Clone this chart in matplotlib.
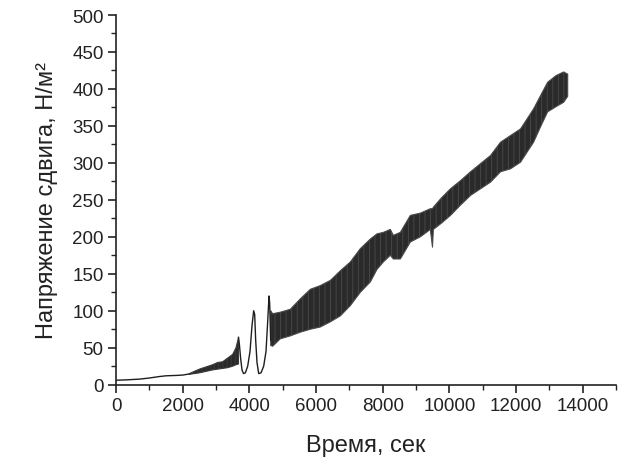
import matplotlib
matplotlib.use("Agg")
import matplotlib.pyplot as plt
from matplotlib.ticker import MultipleLocator

plt.rcParams['font.family'] = ['Liberation Sans', 'DejaVu Sans']
plt.rcParams['hatch.linewidth'] = 0.6

# Thin (low-noise) segment at the start
t_start = [0, 300, 700, 1000, 1300, 1500, 1800, 2000, 2200]
v_start = [6, 6.5, 7.5, 9, 11, 12, 12.5, 13, 14.5]

# Noisy band 2200-3700 s (lower / upper envelope)
t_band1 = [2200, 2500, 2700, 2900, 3050, 3200, 3350, 3500, 3600, 3675]
lo_band1 = [14, 16, 18, 20, 21, 22, 23, 25, 27, 28]
hi_band1 = [15, 21, 24, 27, 30, 31, 36, 41, 50, 64]

# Thin line with two sharp peaks
t_peaks = [3675, 3700, 3740, 3780, 3825, 3880, 3950, 4020, 4080, 4130, 4160,
           4190, 4230, 4280, 4350, 4430, 4500, 4550, 4590, 4610, 4640]
v_peaks = [64, 55, 35, 20, 15, 16, 25, 45, 80, 100, 95,
           60, 30, 15, 16, 25, 45, 85, 120, 110, 60]

# Main noisy band 4640-13550 s (lower / upper envelope)
t_band2 = [4640, 4700, 4927, 5230, 5528, 5830, 6128, 6430, 6729, 7030, 7330,
           7630, 7830, 8020, 8230, 8320, 8530, 8830, 9130, 9430, 9494, 9520,
           9750, 10035, 10336, 10636, 10936, 11236, 11536, 11837, 12137,
           12527, 12748, 12948, 13200, 13429, 13550]
lo_band2 = [53, 52, 62, 66, 71, 75, 78, 85, 93, 107, 125,
            139, 156, 166, 175, 170, 170, 193, 200, 210, 186, 210,
            218, 229, 243, 256, 265, 274, 288, 292, 301,
            328, 350, 369, 376, 382, 390]
hi_band2 = [100, 96, 98, 102, 116, 129, 134, 141, 154, 166, 184,
            197, 204, 206, 210, 202, 206, 229, 232, 238, 238, 240,
            252, 265, 276, 288, 299, 310, 328, 337, 346,
            373, 392, 409, 418, 423, 420]

fig = plt.figure(figsize=(6.21, 4.64), dpi=100)
ax = fig.add_axes([0.1868, 0.1688, 0.8052, 0.7967])

ink = '#1e1e1e'
band = '#2a2a2a'
ax.plot(t_start, v_start, color=ink, lw=1.0)
ax.fill_between(t_band1, lo_band1, hi_band1, facecolor=band, edgecolor='#3a3a3a',
                lw=0.8, hatch='||||')
ax.plot(t_peaks, v_peaks, color=ink, lw=1.0)
ax.fill_between(t_band2, lo_band2, hi_band2, facecolor=band, edgecolor='#4a4a4a',
                lw=0.8, hatch='|||')

ax.set_xlim(0, 15000)
ax.set_ylim(0, 500)
ax.xaxis.set_major_locator(MultipleLocator(2000))
ax.xaxis.set_minor_locator(MultipleLocator(1000))
ax.yaxis.set_major_locator(MultipleLocator(50))
ax.yaxis.set_minor_locator(MultipleLocator(25))

for s in ['top', 'right']:
    ax.spines[s].set_visible(False)
for s in ['left', 'bottom']:
    ax.spines[s].set_linewidth(1.2)
    ax.spines[s].set_color('#222222')

ax.tick_params(which='major', direction='out', length=6, width=1.2,
               labelsize=13.5, colors='#222222', pad=3)
ax.tick_params(which='minor', direction='out', length=3.5, width=1.0,
               colors='#222222')

ax.set_xlabel('Время, сек', fontsize=17, color='#222222', labelpad=14)
ax.set_ylabel('Напряжение сдвига, Н/м²', fontsize=17, color='#222222', labelpad=10)

fig.savefig('out.png', dpi=100)
